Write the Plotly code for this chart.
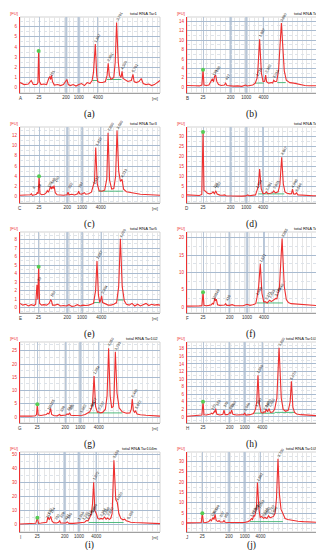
import plotly.graph_objects as go

W, H = 324, 550

PANELS = ["a", "b", "c", "d", "e", "f", "g", "h", "i", "j"]
TITLES = {"a": "total RNA Tar1", "b": "total RNA Tar2", "c": "total RNA Tar3",
          "d": "total RNA Tar4", "e": "total RNA Tar5", "f": "total RNA Tar6",
          "g": "total RNA Tar102", "h": "total RNA Tar103m",
          "i": "total RNA Tar104m", "j": "total RNA Tar105m"}

LADDER_TEXT = ["25", "200", "1000", "4000"]
LADDER_POS = {
    "a": [13.6, 32.9, 42.0, 55.7], "b": [11.7, 31.9, 43.3, 55.8],
    "c": [13.6, 33.8, 44.3, 57.6], "d": [11.7, 31.9, 43.3, 55.5],
    "e": [13.3, 33.8, 44.3, 58.1], "f": [11.7, 31.2, 43.8, 56.2],
    "g": [12.4, 32.4, 43.1, 56.2], "h": [11.7, 31.2, 42.1, 55.0],
    "i": [12.4, 31.9, 42.1, 54.5], "j": [11.2, 30.7, 42.1, 53.6],
}

Y_RANGE = {"a": [-0.53, 6.95], "b": [-1.2, 14.9], "c": [-1.2, 13.6], "d": [-3, 34.5],
           "e": [-0.63, 8.9], "f": [-1.7, 21.7], "g": [-2.2, 28.3], "h": [-1.6, 19.8],
           "i": [-5.2, 52], "j": [-4, 34.5]}
Y_DTICK = {"a": 1, "b": 2, "c": 2, "d": 5, "e": 1, "f": 5, "g": 5, "h": 2, "i": 10, "j": 5}

TRACE_A = [(0,0.5),(3,0.3),(6,0.35),(8,0.7),(9.5,0.3),(12,0.3),(12.8,0.5),(13.3,3.6),(13.9,0.6),(15,0.3),(17,0.35),(19,0.3),(20.5,0.9),(21.3,1.1),(21.9,0.8),(22.5,1.2),(23.2,0.6),(24.5,0.25),(27,0.3),(29,0.2),(31,0.3),(33.5,0.8),(34.5,0.3),(36,0.2),(38,0.3),(40,0.15),(42,0.3),(44,0.4),(46,0.2),(48,0.5),(50,0.4),(51.5,0.7),(52.5,1.5),(53.8,4.3),(54.8,1.2),(55.5,0.6),(57,0.5),(59,0.5),(61,0.6),(62.2,1.2),(63,2.4),(63.8,1.2),(65,0.8),(67,1.0),(68,2.5),(69,6.4),(70.2,2.5),(71.2,1.2),(72.2,1.0),(72.9,1.6),(73.6,0.9),(75,0.8),(77,0.6),(79.5,0.7),(80.7,1.3),(81.5,0.6),(83,0.5),(85,0.6),(86.6,0.9),(88,0.4),(90,0.3),(92,0.35),(94,0.2),(96,0.3),(98,0.5),(100,0.7)]
TRACE_B = [(0,0.4),(3,0.3),(6,0.35),(9,0.3),(10.9,0.5),(11.7,3.7),(12.4,0.5),(14,0.4),(16,0.5),(17.5,1.3),(18.5,1.8),(19.4,1.2),(20.1,2.3),(20.9,2.6),(21.8,1.2),(23,0.6),(25,0.4),(27.3,0.5),(28.2,0.9),(29.1,0.4),(31,0.3),(32.6,0.35),(34,0.25),(37,0.3),(40,0.2),(42.8,0.5),(44,0.3),(46,0.4),(48,0.5),(49.8,0.9),(50.4,1.5),(51.1,1.9),(51.7,3.5),(53,10.2),(54.3,3.0),(55.5,1.2),(56.7,1.3),(57.4,2.6),(58.1,1.2),(59.5,0.9),(61.6,1.0),(62.5,0.9),(63.3,1.5),(64.2,1.2),(65.5,1.3),(66.8,3.5),(68.9,13.6),(71,3.5),(72.5,1.5),(75,1.0),(78,0.9),(81,0.7),(84.7,0.6),(86,0.4),(89,0.35),(92,0.3),(95,0.4),(98,0.3),(100,0.3)]
TRACE_C = [(0,0.3),(3,0.35),(5,0.3),(7.4,0.4),(8.1,0.6),(8.8,0.3),(10.5,0.4),(11.8,0.5),(12.4,0.9),(13,0.6),(13.6,4.0),(14.3,0.6),(15.5,0.4),(17.5,0.5),(18.8,0.8),(19.5,1.2),(20.3,0.9),(21.2,1.6),(21.9,2.0),(22.5,1.5),(23.1,2.0),(23.7,1.6),(24.3,2.2),(25.2,0.8),(26.5,0.4),(29,0.35),(31,0.3),(33.6,0.4),(34.3,0.9),(35,0.4),(37,0.5),(39,0.35),(41.2,0.6),(41.9,1.1),(42.6,0.6),(44,0.5),(46,0.8),(47,0.5),(49,0.6),(51,0.9),(52.4,2.2),(53.2,3.0),(54.1,9.6),(55.2,2.5),(56.5,1.2),(58.5,1.1),(60.5,1.3),(62,3.5),(62.9,12.5),(64,3.2),(65.5,1.5),(67,1.6),(68.3,4.0),(69.3,12.9),(70.5,5.0),(71.7,3.0),(72.9,3.4),(74,1.5),(76,1.0),(79,0.8),(82,0.7),(86,0.5),(90,0.45),(94,0.35),(97,0.3),(100,0.3)]
TRACE_D = [(0,1.0),(3,0.8),(6,0.6),(9,0.7),(10.8,1.2),(11.7,32),(12.4,3.2),(13.5,2.8),(15,1.8),(16.5,1.5),(18,1.8),(19,2.5),(20,1.6),(21,3.0),(22,1.4),(24,0.9),(26,0.8),(27.5,1.0),(28.5,0.6),(31,0.5),(34,0.5),(37,0.4),(40,0.4),(43,0.5),(44.3,1.0),(45.5,0.6),(48,0.7),(50,1.0),(51.1,3.2),(52,5),(53,13.7),(54.2,4),(55.5,1.6),(57,1.8),(58,2.5),(59,1.6),(61,1.8),(62.5,2.2),(63.3,3.0),(64.5,2.0),(66.5,2.5),(67.8,6),(69.1,19.6),(70.3,6.5),(71.5,2.5),(73,1.8),(75,1.5),(76.3,1.6),(77,3.8),(77.8,1.5),(79,1.4),(79.9,2.0),(81,1.0),(84,0.8),(88,0.7),(92,0.6),(96,0.5),(100,0.5)]
TRACE_E = [(0,0.5),(2,0.3),(4,0.4),(6,0.2),(8,0.35),(10,0.25),(11.2,0.4),(12.1,2.7),(12.7,1.0),(13.3,4.8),(14,0.5),(15.5,0.3),(17,0.35),(19,0.3),(20.8,0.5),(21.4,0.85),(21.9,0.9),(22.5,0.8),(23.2,0.3),(25,0.3),(27,0.4),(29,0.2),(31,0.25),(33,0.2),(35,0.35),(37,0.15),(39,0.2),(41,0.35),(43,0.2),(45,0.3),(47,0.25),(49,0.3),(51,0.4),(52.5,0.5),(54,2.0),(55,5.5),(56,1.5),(57,0.6),(57.7,0.9),(58.3,1.4),(59,0.6),(61,0.4),(63,0.3),(65,0.3),(67,0.4),(69,0.6),(70.5,2.5),(71.7,8.1),(73,2.5),(74.5,0.8),(76,0.4),(78,0.3),(80,0.5),(82,0.2),(84,0.4),(86,0.2),(88,0.35),(90,0.5),(92,0.25),(94,0.4),(96,0.3),(98,0.35),(100,0.3)]
TRACE_F = [(0,0.3),(3,0.25),(6,0.3),(9,0.35),(10.9,0.4),(11.7,4.3),(12.4,0.5),(14,0.4),(16,0.5),(17.8,0.7),(18.5,1.1),(19.3,0.8),(20.4,2.7),(20.9,1.8),(21.4,2.3),(22.3,0.7),(24,0.5),(26,0.5),(27.4,0.6),(28.2,1.0),(29,0.5),(31,0.5),(33,0.7),(35,0.4),(38,0.5),(41,0.4),(43.8,0.8),(46,0.5),(48,0.7),(50.2,1.0),(51.1,2.8),(52.3,6),(53.5,12.5),(54.7,4),(56,1.5),(57.4,1.5),(58.5,1.2),(60.4,2.0),(61.5,1.6),(63.5,2.0),(64.8,2.5),(65.6,2.4),(66.4,3.8),(67.5,6),(69.4,19.8),(71,6),(72.5,2.2),(74,1.3),(76,1.0),(79,0.9),(82,0.7),(84.7,0.6),(88,0.5),(92,0.5),(96,0.4),(100,0.3)]
TRACE_G = [(0,0.4),(4,0.3),(8,0.4),(11,0.5),(11.8,1.0),(12.4,4.9),(13,0.8),(15,0.6),(17,0.7),(18.8,1.0),(19.8,1.5),(20.6,1.2),(21.3,2.0),(21.9,3.3),(22.6,1.0),(24,0.6),(26.5,0.5),(27.8,0.7),(28.4,1.0),(29,0.6),(31,0.6),(32.8,0.8),(33.6,1.2),(34.5,1.0),(35.5,1.5),(36.3,0.7),(38.5,0.6),(41,0.6),(42.5,0.7),(43.3,0.8),(44.5,0.7),(46.5,1.0),(48.6,1.8),(49.8,2.0),(51,3.5),(51.8,5),(52.9,15.5),(54,4),(55.3,1.8),(56.2,2.0),(57.2,1.6),(59,1.8),(61,3),(62.2,8),(63.3,25.9),(64.4,8),(65.5,3.5),(66.6,4),(67.2,8),(68.1,24.6),(69.3,9),(70.8,3.5),(73,2),(76,1.5),(78.5,1.6),(79.5,3),(80.2,6.8),(81,2.5),(81.8,1.8),(82.6,2.3),(83.6,1.2),(86,0.9),(90,0.7),(94,0.6),(97,0.5),(100,0.4)]
TRACE_H = [(0,0.2),(3,0.25),(6,0.3),(9,0.4),(10.9,0.5),(11.7,4.0),(12.4,0.6),(14,0.5),(16,0.6),(17.2,0.8),(18,1.0),(18.8,0.8),(20,1.5),(20.5,1.2),(20.9,2.2),(21.8,0.7),(24,0.5),(26.2,0.7),(27,1.8),(27.8,0.6),(29.5,0.6),(30.5,0.8),(31.2,1.2),(31.8,0.9),(32.6,1.8),(33.5,0.7),(36,0.5),(39,0.5),(41.2,0.6),(42.1,1.0),(43,0.5),(46,0.6),(48.5,0.9),(49.4,1.5),(50.1,2.2),(50.9,4),(51.8,11.0),(52.8,3.5),(54,1.2),(55.4,1.0),(56.2,1.4),(57,1.2),(57.8,2.0),(58.8,1.4),(59.9,2.2),(60.9,1.2),(62.5,1.3),(64,2.0),(65.6,5),(67.2,18.3),(68.8,5),(70.2,2.0),(72,1.5),(74,1.8),(75.3,4),(76.2,9.4),(77.3,2.5),(78.5,1.2),(80,0.8),(83,0.6),(86,0.5),(90,0.5),(94,0.4),(97,0.3),(98.8,0.4),(99.5,0.9),(100,0.7)]
TRACE_I = [(0,0.5),(4,0.6),(8,0.8),(11.3,1.0),(12.4,5.0),(13.3,1.0),(15,1.2),(17,1.4),(18.3,2.0),(19.1,1.8),(19.9,5.5),(20.9,3.5),(21.9,6.0),(22.9,2.5),(24,1.5),(24.8,1.5),(26,1.2),(27.6,1.8),(28.3,3.0),(29,1.2),(31,1.3),(31.9,1.5),(32.8,1.2),(33.8,2.0),(35,1.0),(38,1.0),(40.5,1.2),(41.9,1.8),(43.5,1.4),(45,2.0),(46.2,1.8),(47.4,3.0),(48.6,2.8),(49.8,5.0),(51,8.0),(51.8,15),(52.6,30.3),(53.5,10),(54.5,8.0),(55.6,4.5),(56.8,4.0),(58,4.5),(59.2,4.0),(60.3,5.5),(61.5,4.0),(62.6,4.8),(63.8,3.8),(64.8,4.5),(65.8,8),(67.1,46.0),(68.4,18),(69.5,16.0),(70.6,8),(72,4.5),(73.6,3.5),(74.8,4.0),(75.9,2.8),(77.1,2.5),(79,1.8),(82,1.6),(86,1.4),(90,1.2),(93,1.5),(96,1.0),(100,0.8)]
TRACE_J = [(0,0.4),(4,0.5),(8,0.5),(10.4,0.6),(11.2,5.0),(12,0.7),(14,0.6),(16,1.0),(17,2.0),(17.8,1.4),(19,3.0),(19.7,2.0),(20.5,4.5),(21.3,1.6),(22.6,1.0),(23.4,1.5),(24.3,0.8),(26.2,0.8),(27,1.5),(27.8,0.7),(30,0.6),(33,0.6),(36,0.5),(39,0.6),(42,0.6),(44.5,1.0),(46,1.5),(47,2.5),(47.8,2.0),(48.7,4.0),(49.4,3.5),(50.1,5.5),(50.7,8),(51.4,19.8),(52,8),(52.6,6.5),(53.4,3.0),(54.6,3.5),(55.8,2.6),(57.1,3.0),(58.3,2.5),(59.5,3.8),(60.7,2.8),(61.9,3.2),(63.1,3.5),(64.3,5),(65.3,12),(66.4,31.3),(67.5,14),(68.6,7),(70,5.0),(71.6,2.5),(73.5,2.0),(77,1.5),(81,1.2),(85,1.0),(89,0.8),(93,0.7),(97,0.6),(100,0.5)]
TRACES = {"a": TRACE_A, "b": TRACE_B, "c": TRACE_C, "d": TRACE_D, "e": TRACE_E,
          "f": TRACE_F, "g": TRACE_G, "h": TRACE_H, "i": TRACE_I, "j": TRACE_J}

MARKER_X = {"a": 13.3, "b": 11.7, "c": 13.6, "d": 11.7, "e": 13.3, "f": 11.7,
            "g": 12.4, "h": 11.7, "i": 12.4, "j": 11.2}

PEAK_LABELS = {
    "a": [(21.9,"151"),(53.8,"1,847"),(63,"2,951"),(69,"3,761"),(72.9,"4,300"),(80.7,"5,781")],
    "b": [(18.5,"138"),(20.9,"158"),(28.2,"417"),(51.1,"1,715"),(53,"1,887"),(57.4,"2,362"),(63.3,"3,016"),(68.9,"3,890")],
    "c": [(8.1,"6"),(12.4,"24"),(19.5,"120"),(21.9,"145"),(24.3,"160"),(34.3,"232"),(41.9,"787"),(52.4,"1,612"),(54.1,"1,812"),(62.9,"2,830"),(69.3,"3,580"),(72.9,"4,213")],
    "d": [(19,"134"),(21,"150"),(51.1,"1,683"),(58,"2,291"),(63.3,"2,931"),(69.1,"3,867"),(77,"4,998"),(79.9,"5,546")],
    "e": [(12.1,"23"),(21.9,"150"),(55,"1,857"),(58.3,"2,304"),(71.7,"4,020")],
    "f": [(18.5,"128"),(20.4,"149"),(28.2,"415"),(51.1,"1,688"),(53.5,"1,871"),(57.4,"2,271"),(60.4,"2,633"),(64.8,"3,178"),(66.4,"3,440"),(69.4,"3,855")],
    "g": [(19.8,"116"),(21.9,"155"),(28.4,"339"),(33.6,"514"),(35.5,"586"),(43.3,"1,052"),(49.8,"1,554"),(51,"1,677"),(52.9,"1,854"),(56.2,"2,237"),(63.3,"3,050"),(68.1,"3,733"),(80.2,"5,460"),(82.6,"5,872")],
    "h": [(18,"122"),(20.9,"153"),(27,"378"),(31.2,"551"),(32.6,"600"),(42.1,"1,064"),(50.1,"1,680"),(51.8,"1,860"),(56.2,"2,247"),(57.8,"2,420"),(59.9,"2,680"),(67.2,"3,630"),(76.2,"5,070")],
    "i": [(18.3,"111"),(19.9,"130"),(21.9,"154"),(24.8,"210"),(28.3,"329"),(31.9,"481"),(33.8,"560"),(41.9,"1,016"),(45,"1,230"),(47.4,"1,410"),(49.8,"1,580"),(51,"1,690"),(52.6,"1,872"),(58,"2,364"),(60.3,"2,598"),(62.6,"2,870"),(67.1,"3,650"),(69.5,"4,020"),(77.1,"5,155")],
    "j": [(17,"104"),(19,"127"),(20.5,"149"),(23.4,"207"),(27,"352"),(47,"1,470"),(48.7,"1,598"),(50.1,"1,707"),(51.4,"1,862"),(52.6,"2,003"),(55.8,"2,320"),(57.1,"2,450"),(59.5,"2,720"),(61.9,"2,990"),(66.4,"3,730")],
}

BASELINES = {
    "a": [(51.5,55.5,0.7),(62,72.5,0.8)], "b": [(49.8,56,0.9),(66,72,1.0)],
    "c": [(56,73.5,1.1)], "d": [(52,71,1.5)], "e": [(52.5,57,0.6),(69.5,74,0.9)],
    "f": [(51,70,1.2)], "g": [(49,73,1.6)], "h": [(49,64,1.0),(64,79,1.2)],
    "i": [(49,74,1.6)], "j": [(46,70,1.0)],
}

# ---- layout geometry (pixels) ----
COLS = [(12, 152), (179, 316)]
ROWS = [(9, 85), (119, 195), (224, 305), (334, 415), (444, 524)]
CAP_Y = [106, 216, 326, 436, 537]
CAP_X = [81, 243]

RED = "#ee3030"
SANS = "Liberation Sans"
fig = go.Figure()
layout = dict(width=W, height=H, margin=dict(l=0, r=0, t=0, b=0),
              paper_bgcolor="white", plot_bgcolor="white", showlegend=False)
annotations = []
shapes = []

for i, p in enumerate(PANELS):
    r, c = divmod(i, 2)
    n = i + 1
    xs = "x" if n == 1 else f"x{n}"
    ys = "y" if n == 1 else f"y{n}"
    xk = "xaxis" if n == 1 else f"xaxis{n}"
    yk = "yaxis" if n == 1 else f"yaxis{n}"
    x0, x1 = COLS[c]
    top, bot = ROWS[r]
    dt = Y_DTICK[p]
    layout[xk] = dict(domain=[x0 / W, x1 / W], range=[0, 100], anchor=ys,
                      tickmode="array", tickvals=LADDER_POS[p], ticktext=LADDER_TEXT,
                      showgrid=True, gridcolor="#b9c6d6", gridwidth=1,
                      showline=True, linecolor="#a0a0a0", linewidth=1, mirror=False,
                      ticks="", tickfont=dict(family=SANS, size=4.5, color="#333333"),
                      zeroline=False, fixedrange=True,
                      minor=dict(tickmode="linear", tick0=0, dtick=3.5, showgrid=True,
                                 gridcolor="#e6e6e6", gridwidth=0.6))
    layout[yk] = dict(domain=[1 - bot / H, 1 - top / H], range=Y_RANGE[p], anchor=xs,
                      tick0=0, dtick=dt, showgrid=True, gridcolor="#a9bbd0", gridwidth=1,
                      showline=True, linecolor=RED, linewidth=1, ticks="",
                      tickfont=dict(family=SANS, size=4.5, color=RED),
                      ticklabelstandoff=1, zeroline=False, fixedrange=True,
                      minor=dict(dtick=dt / 2, showgrid=True, gridcolor="#dde3ea",
                                 griddash="dot", gridwidth=0.6))
    shapes.append(dict(type="rect", xref=f"{xs} domain", yref=f"{ys} domain",
                       x0=0, x1=1, y0=0, y1=1, line=dict(color="#c8c8c8", width=0.8),
                       layer="below"))
    lp = LADDER_POS[p]
    for k in (1, 2):
        shapes.append(dict(type="rect", xref=xs, yref=f"{ys} domain",
                           x0=lp[k] - 1.0, x1=lp[k] + 1.0, y0=0, y1=1,
                           fillcolor="#c3cfdd", line=dict(width=0), layer="below"))
    shapes.append(dict(type="line", xref=xs, yref=f"{ys} domain", x0=lp[3], x1=lp[3],
                       y0=0, y1=1, line=dict(color="#8ea6c4", width=1.2), layer="below"))

    pts = TRACES[p]
    tx = [q[0] for q in pts]
    ty = [q[1] for q in pts]
    lookup = dict(pts)
    for (bx0, bx1, by) in BASELINES[p]:
        fig.add_trace(go.Scatter(x=[bx0, bx1], y=[by, by], mode="lines",
                                 line=dict(color="#3cb371", width=0.9),
                                 xaxis=xs, yaxis=ys, hoverinfo="skip"))
    fig.add_trace(go.Scatter(x=tx, y=ty, mode="lines", line=dict(color=RED, width=1.1),
                             xaxis=xs, yaxis=ys, hoverinfo="skip"))
    mx = MARKER_X[p]
    fig.add_trace(go.Scatter(x=[mx], y=[lookup[mx]], mode="markers",
                             marker=dict(color="#55cc55", size=4, line=dict(width=0)),
                             xaxis=xs, yaxis=ys, hoverinfo="skip"))
    for (lx, lt) in PEAK_LABELS[p]:
        annotations.append(dict(x=lx, y=lookup[lx], xref=xs, yref=ys, text=lt,
                                showarrow=False, textangle=-60, xshift=2.5, yshift=6,
                                font=dict(family=SANS, size=3.6, color="#111111")))
    annotations.append(dict(x=1, y=1, xref=f"{xs} domain", yref=f"{ys} domain",
                            text=TITLES[p], showarrow=False, xanchor="right",
                            yanchor="bottom", yshift=-1,
                            font=dict(family=SANS, size=4.2, color="#111111")))
    annotations.append(dict(x=0, y=1, xref=f"{xs} domain", yref=f"{ys} domain",
                            text="[FU]", showarrow=False, xanchor="right",
                            yanchor="bottom", yshift=-1,
                            font=dict(family=SANS, size=4.2, color=RED)))
    annotations.append(dict(x=1, y=0, xref=f"{xs} domain", yref=f"{ys} domain",
                            text="[nt]", showarrow=False, xanchor="right",
                            yanchor="top", yshift=-1,
                            font=dict(family=SANS, size=4.2, color="#333333")))
    annotations.append(dict(x=0, y=0, xref=f"{xs} domain", yref=f"{ys} domain",
                            text=p.upper(), showarrow=False, xanchor="center",
                            yanchor="top", yshift=-1,
                            font=dict(family=SANS, size=4.5, color="#333333")))
    annotations.append(dict(x=CAP_X[c] / W, y=1 - CAP_Y[r] / H, xref="paper", yref="paper",
                            text=f"({p})", showarrow=False, xanchor="center",
                            yanchor="middle",
                            font=dict(family="Liberation Serif", size=9.5, color="#111111")))

layout["annotations"] = annotations
layout["shapes"] = shapes
fig.update_layout(**layout)
fig.write_html("out.html")
